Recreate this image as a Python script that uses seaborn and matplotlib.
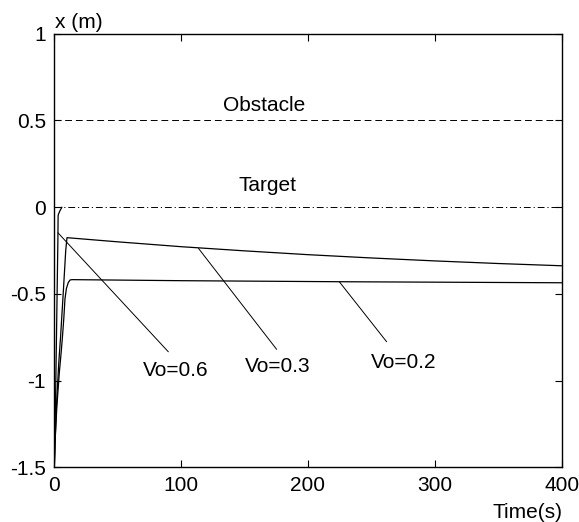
import numpy as np
import pandas as pd
import matplotlib
matplotlib.use("Agg")
import matplotlib.pyplot as plt
import seaborn as sns

# ---- data ----
t_v06 = [0, 1, 2, 2.8, 3.0, 3.3, 4.5, 6]
x_v06 = [-1.5, -1.1, -0.6, -0.2, -0.05, -0.04, -0.02, 0.0]

t_v03 = [0, 0.6, 2, 3.5, 5, 7, 9, 10, 50, 100, 150, 200, 250, 300, 350, 400]
x_v03 = [-1.5, -1.35, -1.1, -0.9, -0.74, -0.5, -0.25, -0.176, -0.20, -0.228,
         -0.252, -0.274, -0.293, -0.31, -0.325, -0.338]

t_v02 = [0, 0.6, 2, 4, 5.5, 6.5, 7.5, 8.4, 9.5, 11, 12.4, 14, 100, 225, 400]
x_v02 = [-1.5, -1.35, -1.15, -0.95, -0.83, -0.74, -0.64, -0.53, -0.47, -0.435,
         -0.42, -0.418, -0.424, -0.43, -0.436]

obstacle_level = 0.5
target_level = 0.0

series_labels = ["Vo=0.6", "Vo=0.3", "Vo=0.2"]
pointer_tips = [(2.9, -0.148), (113.7, -0.238), (224.7, -0.43)]
pointer_tails = [(89.9, -0.834), (175.3, -0.820), (262.0, -0.776)]
label_pos = [(96.0, -0.94), (176.1, -0.92), (275.1, -0.897)]

x_ticks = [0, 100, 200, 300, 400]
y_ticks = [-1.5, -1, -0.5, 0, 0.5, 1]
y_tick_labels = ["-1.5", "-1", "-0.5", "0", "0.5", "1"]

FS = 15

# ---- build frame ----
df = pd.concat([
    pd.DataFrame({"t": t_v06, "x": x_v06, "s": "Vo=0.6"}),
    pd.DataFrame({"t": t_v03, "x": x_v03, "s": "Vo=0.3"}),
    pd.DataFrame({"t": t_v02, "x": x_v02, "s": "Vo=0.2"}),
], ignore_index=True)

sns.set_style("ticks")
plt.rcParams["font.family"] = ["Liberation Sans", "DejaVu Sans"]
plt.rcParams["text.color"] = "black"
plt.rcParams["axes.labelcolor"] = "black"

fig = plt.figure(figsize=(5.79, 5.22), dpi=100)
ax = fig.add_axes([0.0938, 0.1048, 0.8762, 0.8306])

sns.lineplot(data=df, x="t", y="x", units="s", estimator=None, sort=False,
             color="black", lw=0.9, ax=ax, legend=False)

ax.axhline(obstacle_level, color="black", lw=0.7, ls=(0, (7, 4)))
ax.axhline(target_level, color="black", lw=0.7, ls=(0, (7, 3, 1.2, 3)))

for lab, tip, tail, lp in zip(series_labels, pointer_tips, pointer_tails, label_pos):
    ax.annotate("", xy=tip, xytext=tail,
                arrowprops=dict(arrowstyle="-", lw=0.7, color="black",
                                shrinkA=0, shrinkB=0))
    ax.text(lp[0], lp[1], lab, ha="center", va="center", fontsize=FS,
            color="black")

ax.text(165.7, 0.589, "Obstacle", ha="center", va="center", fontsize=FS, color="black")
ax.text(168, 0.122, "Target", ha="center", va="center", fontsize=FS, color="black")

ax.set_xlim(0, 400)
ax.set_ylim(-1.5, 1)
ax.set_xticks(x_ticks)
ax.set_yticks(y_ticks)
ax.set_yticklabels(y_tick_labels)
ax.tick_params(direction="in", length=5, width=0.8, top=True, right=True,
               labelsize=FS, colors="black", pad=6)
ax.set_xlabel("")
ax.set_ylabel("")
for sp in ax.spines.values():
    sp.set_visible(True)
    sp.set_linewidth(1.0)
    sp.set_color("black")

ax.text(0.002, 1.003, "x (m)", transform=ax.transAxes, ha="left", va="bottom",
        fontsize=FS, color="black")
ax.text(1.002, -0.105, "Time(s)", transform=ax.transAxes, ha="right", va="center",
        fontsize=FS, color="black")

fig.savefig("out.png", dpi=100, facecolor="white")
